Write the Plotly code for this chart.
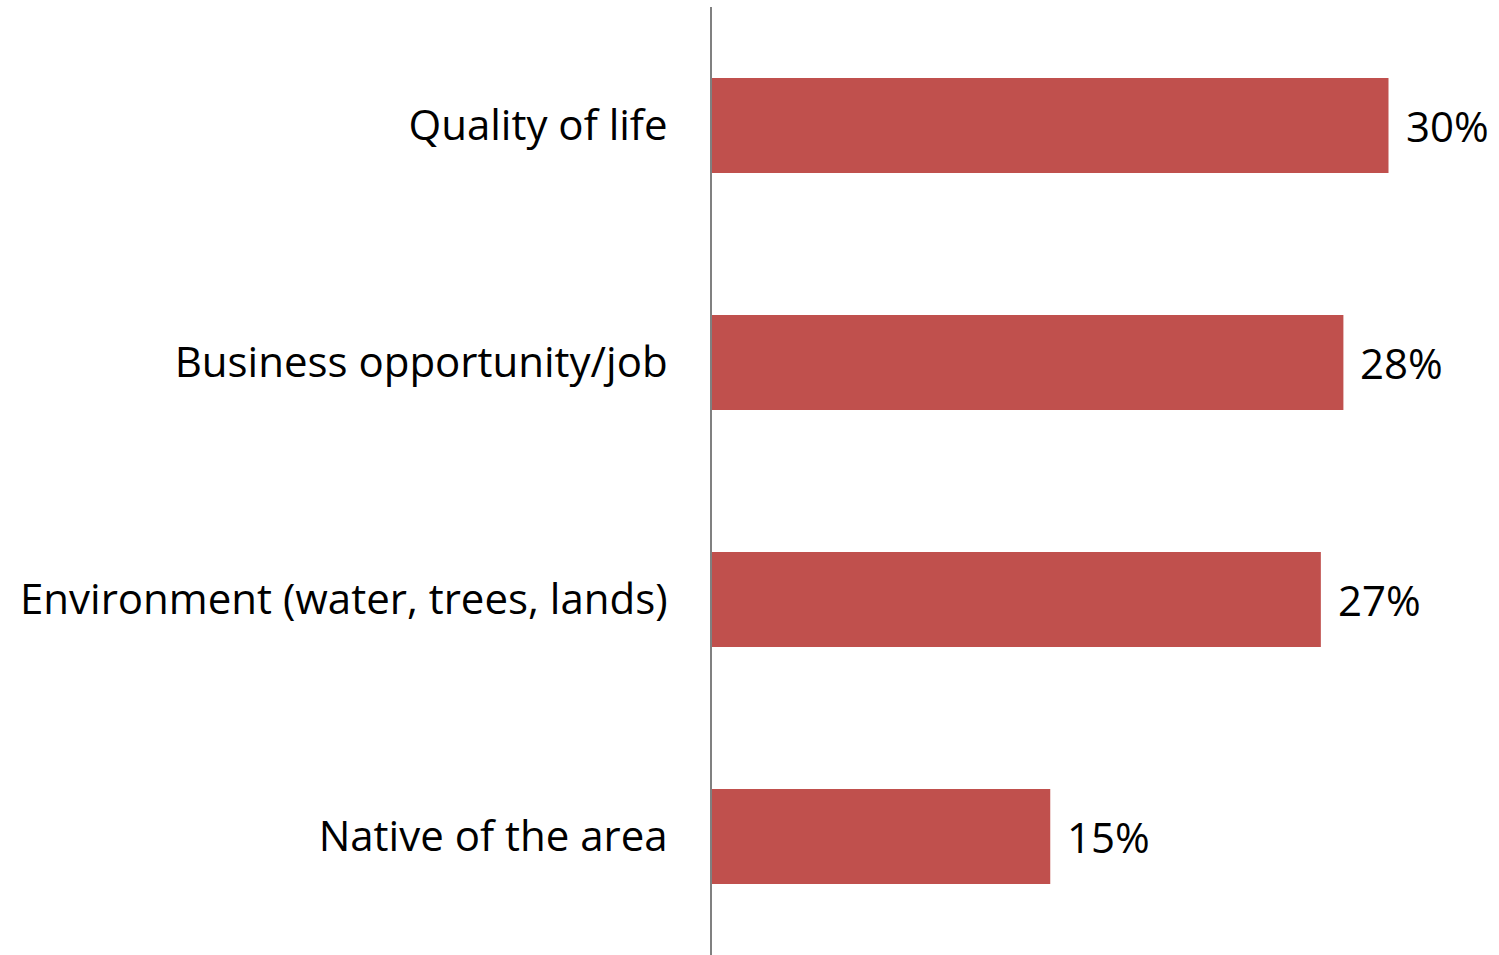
import plotly.graph_objects as go

categories = ["Quality of life", "Business opportunity/job",
              "Environment (water, trees, lands)", "Native of the area"]
values = [30, 28, 27, 15]
value_labels = ["30%", "28%", "27%", "15%"]

BAR_COLOR = "#C0504D"
FONT = "Open Sans"
SIZE = 42

fig = go.Figure()
fig.add_trace(go.Bar(
    y=categories,
    x=values,
    orientation="h",
    marker=dict(color=BAR_COLOR, line=dict(width=0)),
    width=0.4,
    hoverinfo="skip",
))

for cat, val, lab in zip(categories, values, value_labels):
    fig.add_annotation(
        x=val, y=cat, text=lab, showarrow=False,
        xanchor="left", yanchor="middle", xshift=15,
        font=dict(family=FONT, size=SIZE, color="black"),
    )

fig.update_layout(
    width=1499, height=955,
    margin=dict(l=712, r=0, t=7, b=0),
    paper_bgcolor="white", plot_bgcolor="white",
    showlegend=False,
    font=dict(family=FONT, size=SIZE, color="black"),
    xaxis=dict(range=[0, 34.9], visible=False, fixedrange=True),
    yaxis=dict(
        categoryorder="array", categoryarray=categories[::-1],
        showline=True, linecolor="#808080", linewidth=2,
        showgrid=False, zeroline=False, ticks="",
        ticklabelstandoff=34,
        tickfont=dict(family=FONT, size=SIZE, color="black"),
        fixedrange=True,
    ),
)

fig.write_html("out.html")
